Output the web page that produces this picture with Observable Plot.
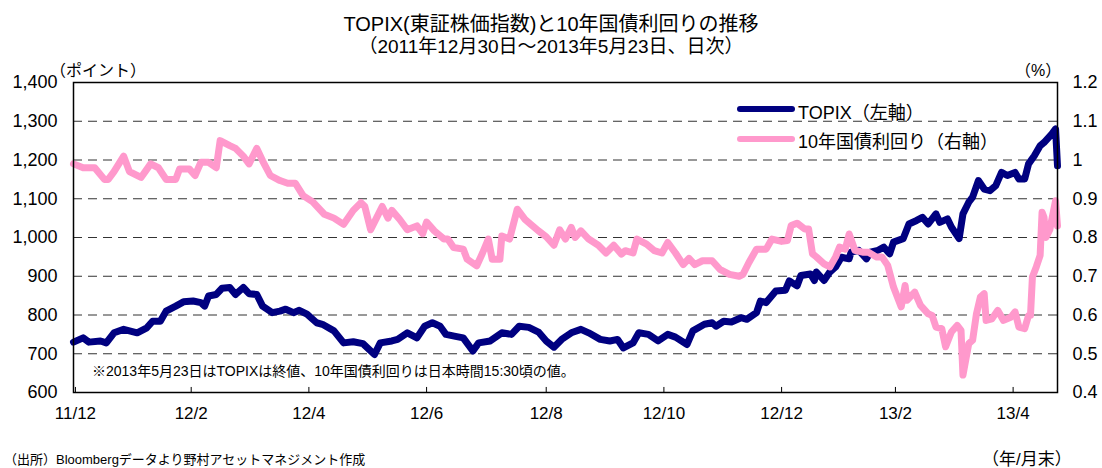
<!DOCTYPE html>
<html><head><meta charset="utf-8">
<script src="https://cdn.jsdelivr.net/npm/d3@7"></script>
<script src="https://cdn.jsdelivr.net/npm/@observablehq/plot@0.6"></script>
<style>
body{margin:0;background:#fff;font-family:"Liberation Sans","Noto Sans CJK JP",sans-serif;}
#wrap{position:relative;width:1102px;height:468px;overflow:hidden;background:#fff;}
.t{position:absolute;white-space:nowrap;color:#000;line-height:1;z-index:2;}
#chart{position:absolute;left:0;top:56px;z-index:1;}
.lg{position:absolute;height:6px;border-radius:3px;z-index:2;}
</style></head><body><div id="wrap">
<div id="chart"></div>
<div class="t" style="left:0;width:1102px;text-align:center;top:14px;font-size:20px;">TOPIX(東証株価指数)と10年国債利回りの推移</div>
<div class="t" style="left:0;width:1102px;text-align:center;top:37px;font-size:19px;">（2011年12月30日～2013年5月23日、日次）</div>
<div class="t" style="left:50px;top:63px;font-size:16px;">（ポイント）</div>
<div class="t" style="left:1015px;top:63px;font-size:16px;">（%）</div>
<div class="lg" style="left:737px;top:106px;width:58px;background:#000080;"></div>
<div class="t" style="left:798px;top:104px;font-size:18px;">TOPIX（左軸）</div>
<div class="lg" style="left:737px;top:136px;width:58px;background:#ff99cc;"></div>
<div class="t" style="left:798px;top:133px;font-size:18px;">10年国債利回り（右軸）</div>
<div class="t" style="left:92px;top:364px;font-size:14px;">※2013年5月23日はTOPIXは終値、10年国債利回りは日本時間15:30頃の値。</div>
<div class="t" style="left:4px;top:453px;font-size:13px;">（出所）Bloombergデータより野村アセットマネジメント作成</div>
<div class="t" style="left:982px;top:451px;font-size:17px;">（年/月末）</div>
</div>
<script>
const topixDates = ["2011-12-30","2012-01-04","2012-01-07","2012-01-13","2012-01-16","2012-01-20","2012-01-25","2012-02-01","2012-02-06","2012-02-09","2012-02-13","2012-02-16","2012-02-21","2012-02-25","2012-03-01","2012-03-05","2012-03-07","2012-03-09","2012-03-13","2012-03-16","2012-03-20","2012-03-23","2012-03-27","2012-03-30","2012-04-03","2012-04-06","2012-04-11","2012-04-15","2012-04-18","2012-04-22","2012-04-25","2012-04-29","2012-05-04","2012-05-07","2012-05-13","2012-05-18","2012-05-23","2012-05-28","2012-06-03","2012-06-06","2012-06-12","2012-06-15","2012-06-20","2012-06-25","2012-06-29","2012-07-03","2012-07-07","2012-07-10","2012-07-15","2012-07-19","2012-07-24","2012-07-27","2012-08-02","2012-08-08","2012-08-13","2012-08-17","2012-08-22","2012-08-27","2012-08-31","2012-09-04","2012-09-08","2012-09-13","2012-09-18","2012-09-22","2012-09-28","2012-10-03","2012-10-07","2012-10-10","2012-10-15","2012-10-18","2012-10-23","2012-10-28","2012-11-02","2012-11-06","2012-11-12","2012-11-15","2012-11-21","2012-11-25","2012-11-27","2012-12-01","2012-12-05","2012-12-10","2012-12-13","2012-12-18","2012-12-20","2012-12-23","2012-12-28","2013-01-02","2013-01-04","2013-01-08","2013-01-10","2013-01-15","2013-01-17","2013-01-18","2013-01-22","2013-01-25","2013-01-28","2013-01-31","2013-02-04","2013-02-05","2013-02-09","2013-02-13","2013-02-15","2013-02-19","2013-02-22","2013-02-25","2013-02-27","2013-03-04","2013-03-07","2013-03-11","2013-03-14","2013-03-17","2013-03-21","2013-03-23","2013-03-27","2013-03-29","2013-04-02","2013-04-04","2013-04-07","2013-04-09","2013-04-12","2013-04-15","2013-04-18","2013-04-21","2013-04-24","2013-04-27","2013-05-01","2013-05-03","2013-05-06","2013-05-08","2013-05-11","2013-05-14","2013-05-16","2013-05-20","2013-05-22","2013-05-23"];
const topixValues = [730,741,730,733,728,754,763,754,767,784,784,810,823,834,836,832,823,849,853,869,871,853,871,855,853,823,806,810,815,806,812,802,780,776,759,728,731,726,698,728,733,737,754,741,771,780,771,750,745,741,707,728,733,754,750,771,768,756,733,717,737,754,763,754,737,733,737,715,728,754,750,733,750,743,724,759,776,780,771,784,782,793,789,806,836,832,862,864,888,875,902,906,889,911,889,911,924,949,945,962,967,945,962,967,975,958,988,997,1035,1044,1052,1035,1061,1039,1048,1027,997,1061,1091,1104,1147,1125,1121,1134,1168,1160,1168,1151,1151,1190,1211,1237,1245,1267,1280,1185];

const jgbDates = ["2011-12-30","2012-01-04","2012-01-10","2012-01-15","2012-01-17","2012-01-20","2012-01-25","2012-01-28","2012-02-03","2012-02-08","2012-02-12","2012-02-16","2012-02-21","2012-02-23","2012-02-28","2012-03-02","2012-03-05","2012-03-09","2012-03-13","2012-03-15","2012-03-20","2012-03-23","2012-03-27","2012-03-30","2012-04-03","2012-04-06","2012-04-10","2012-04-15","2012-04-19","2012-04-23","2012-04-27","2012-05-02","2012-05-08","2012-05-13","2012-05-18","2012-05-23","2012-05-27","2012-05-29","2012-06-01","2012-06-04","2012-06-07","2012-06-10","2012-06-12","2012-06-16","2012-06-20","2012-06-25","2012-06-28","2012-06-30","2012-07-04","2012-07-09","2012-07-11","2012-07-14","2012-07-19","2012-07-21","2012-07-26","2012-07-29","2012-08-01","2012-08-03","2012-08-07","2012-08-08","2012-08-12","2012-08-16","2012-08-20","2012-08-23","2012-08-27","2012-08-31","2012-09-04","2012-09-07","2012-09-10","2012-09-13","2012-09-15","2012-09-18","2012-09-22","2012-09-27","2012-10-01","2012-10-05","2012-10-09","2012-10-11","2012-10-15","2012-10-17","2012-10-22","2012-10-26","2012-10-30","2012-11-02","2012-11-06","2012-11-10","2012-11-13","2012-11-16","2012-11-20","2012-11-25","2012-11-29","2012-12-04","2012-12-09","2012-12-11","2012-12-14","2012-12-18","2012-12-23","2012-12-26","2012-12-31","2013-01-03","2013-01-05","2013-01-08","2013-01-12","2013-01-14","2013-01-16","2013-01-18","2013-01-22","2013-01-25","2013-01-28","2013-01-30","2013-02-02","2013-02-04","2013-02-07","2013-02-11","2013-02-14","2013-02-18","2013-02-21","2013-02-24","2013-02-27","2013-03-03","2013-03-05","2013-03-06","2013-03-10","2013-03-13","2013-03-17","2013-03-19","2013-03-21","2013-03-24","2013-03-26","2013-03-29","2013-04-01","2013-04-03","2013-04-04","2013-04-07","2013-04-09","2013-04-11","2013-04-13","2013-04-15","2013-04-16","2013-04-19","2013-04-22","2013-04-25","2013-04-29","2013-05-01","2013-05-03","2013-05-06","2013-05-08","2013-05-09","2013-05-10","2013-05-12","2013-05-14","2013-05-15","2013-05-16","2013-05-17","2013-05-19","2013-05-21","2013-05-22","2013-05-23"];
const jgbValues = [0.99,0.98,0.98,0.95,0.95,0.97,1.01,0.97,0.955,0.99,0.98,0.95,0.95,0.977,0.977,0.96,0.994,0.994,0.98,1.05,1.037,1.03,1.01,0.99,1.03,0.998,0.96,0.947,0.94,0.94,0.908,0.892,0.86,0.85,0.834,0.87,0.89,0.88,0.82,0.85,0.88,0.85,0.87,0.847,0.82,0.83,0.81,0.84,0.817,0.796,0.796,0.774,0.77,0.744,0.727,0.76,0.796,0.744,0.744,0.804,0.796,0.873,0.847,0.834,0.817,0.802,0.78,0.82,0.796,0.826,0.80,0.817,0.796,0.78,0.76,0.78,0.757,0.766,0.76,0.796,0.783,0.766,0.76,0.787,0.76,0.73,0.746,0.73,0.74,0.74,0.718,0.705,0.70,0.705,0.735,0.77,0.77,0.796,0.79,0.792,0.831,0.837,0.822,0.822,0.758,0.75,0.732,0.724,0.75,0.775,0.77,0.809,0.767,0.762,0.762,0.75,0.75,0.728,0.672,0.621,0.676,0.638,0.659,0.625,0.603,0.599,0.569,0.565,0.518,0.556,0.573,0.56,0.445,0.526,0.535,0.603,0.646,0.655,0.586,0.59,0.612,0.586,0.595,0.608,0.569,0.565,0.599,0.599,0.698,0.724,0.754,0.865,0.852,0.80,0.82,0.87,0.895,0.83];

const leftTicks = [600,700,800,900,1000,1100,1200,1300,1400];
const rightTicks = [0.4,0.5,0.6,0.7,0.8,0.9,1.0,1.1,1.2];
const gridVals = [700,800,900,1000,1100,1200,1300];
const xTicks = ["2011-12-31","2012-02-29","2012-04-30","2012-06-30","2012-08-31","2012-10-31","2012-12-31","2013-02-28","2013-04-30"];

const toLeft = r => (r - 0.4) * 1000 + 600;
const topix = topixDates.map((d,i) => ({date: new Date(d), v: topixValues[i]}));
const jgb = jgbDates.map((d,i) => ({date: new Date(d), v: toLeft(jgbValues[i])}));
const xt = xTicks.map(d => new Date(d));

const chart = Plot.plot({
  width: 1102, height: 412,
  marginLeft: 73, marginRight: 45, marginTop: 26, marginBottom: 76,
  style: {fontFamily: '"Liberation Sans","Noto Sans CJK JP",sans-serif', background: "#fff", color: "#000"},
  x: {type: "utc", domain: [new Date("2011-12-30"), new Date("2013-05-23")]},
  y: {domain: [600, 1400]},
  marks: [
    Plot.ruleY(gridVals, {stroke: "#333", strokeWidth: 1, strokeDasharray: "9,6"}),
    Plot.ruleX(xt, {y1: 600, y2: 613, stroke: "#000", strokeWidth: 1}),
    Plot.line(topix, {x: "date", y: "v", stroke: "#000080", strokeWidth: 7, strokeLinejoin: "round", strokeLinecap: "round"}),
    Plot.line(jgb, {x: "date", y: "v", stroke: "#ff99cc", strokeWidth: 7, strokeLinejoin: "round", strokeLinecap: "round"}),
    Plot.frame({stroke: "#000", strokeWidth: 1.5}),
    Plot.axisY({anchor: "left", ticks: leftTicks, tickSize: 0, tickPadding: 16, tickFormat: d3.format(","), fontSize: 18, label: null}),
    Plot.axisY({anchor: "right", ticks: rightTicks.map(toLeft), tickSize: 0, tickPadding: 15, tickFormat: t => String(Math.round(((t - 600) / 1000 + 0.4) * 10) / 10), fontSize: 18, label: null}),
    Plot.axisX({ticks: xt, tickSize: 0, tickPadding: 14, tickFormat: d => `${String(d.getUTCFullYear()).slice(2)}/${d.getUTCMonth() + 1}`, fontSize: 17, label: null})
  ]
});
document.getElementById("chart").appendChild(chart);
</script></body></html>
